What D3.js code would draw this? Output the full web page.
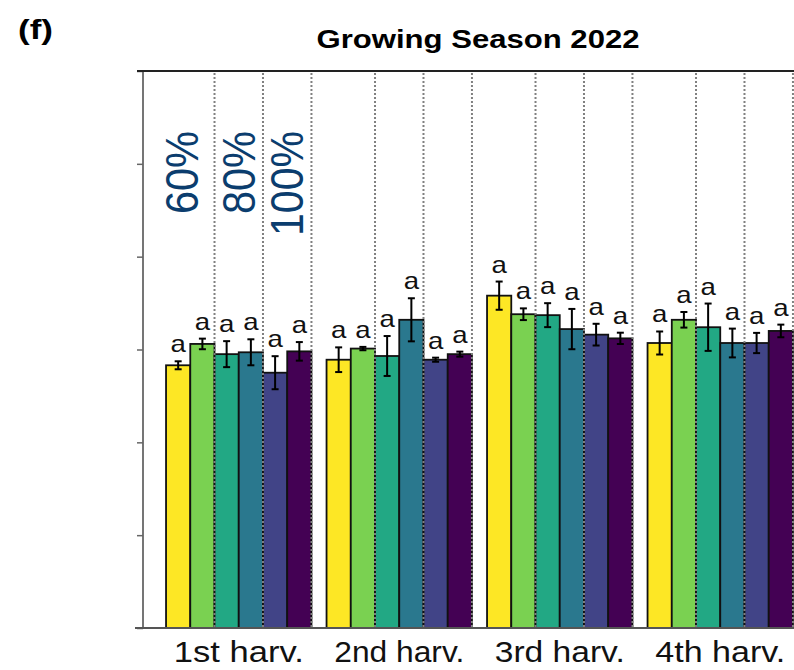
<!DOCTYPE html>
<html>
<head>
<meta charset="utf-8">
<script src="https://cdn.jsdelivr.net/npm/d3@7"></script>
<style>
  body { margin: 0; background: #fff; }
  svg { display: block; font-family: "Liberation Sans", Arial, sans-serif; }
</style>
</head>
<body>
<svg id="chart"></svg>
<script>
// harvests on x axis
const harvests = ["1st harv.", "2nd harv.", "3rd harv.", "4th harv."];
// six treatments per harvest (pairs by irrigation level)
const treatments = ["60% a", "60% b", "80% a", "80% b", "100% a", "100% b"];
const irrigation = ["60%", "80%", "100%"];
const colors = ["#fde725", "#7ad151", "#22a884", "#2a788e", "#414487", "#440154"];

// means per harvest (rows) and treatment (cols)
const means = [
  [2.83, 3.06, 2.95, 2.97, 2.75, 2.98],
  [2.89, 3.01, 2.93, 3.32, 2.89, 2.95],
  [3.58, 3.38, 3.37, 3.22, 3.16, 3.12],
  [3.07, 3.32, 3.24, 3.07, 3.07, 3.20]
];
// error bar half-widths
const errors = [
  [0.043, 0.057, 0.14, 0.14, 0.178, 0.10],
  [0.133, 0.018, 0.215, 0.232, 0.022, 0.027],
  [0.152, 0.063, 0.129, 0.217, 0.117, 0.061],
  [0.124, 0.084, 0.255, 0.155, 0.109, 0.068]
];
// significance letters
const letters = [
  ["a", "a", "a", "a", "a", "a"],
  ["a", "a", "a", "a", "a", "a"],
  ["a", "a", "a", "a", "a", "a"],
  ["a", "a", "a", "a", "a", "a"]
];
const yTicks = [0, 1, 2, 3, 4, 5, 6];

const width = 794, height = 670;
const marginTop = 71, marginBottom = 42, marginLeft = 143;

const svg = d3.select("#chart")
  .attr("width", width)
  .attr("height", height)
  .attr("viewBox", [0, 0, width, height]);

const x0 = d3.scaleBand(harvests, [158.5, 800.5]).paddingInner(0.094).paddingOuter(0.047);
const x1 = d3.scaleBand(d3.range(treatments.length), [0, x0.bandwidth()]);
const y = d3.scaleLinear([0, 6], [height - marginBottom, marginTop]);

const data = [];
harvests.forEach((h, gi) => treatments.forEach((t, ti) => data.push({
  h, ti, v: means[gi][ti], e: errors[gi][ti], l: letters[gi][ti]
})));

// panel label and title
svg.append("text")
  .attr("x", 18).attr("y", 39)
  .attr("font-size", 28).attr("font-weight", "bold")
  .attr("textLength", 35).attr("lengthAdjust", "spacingAndGlyphs")
  .text("(f)");

svg.append("text")
  .attr("x", 478).attr("y", 48)
  .attr("text-anchor", "middle")
  .attr("font-size", 25).attr("font-weight", "bold")
  .attr("textLength", 323).attr("lengthAdjust", "spacingAndGlyphs")
  .text("Growing Season 2022");

// bars
const bars = svg.append("g");
bars.selectAll("rect")
  .data(data)
  .join("rect")
    .attr("x", d => x0(d.h) + x1(d.ti))
    .attr("y", d => y(d.v))
    .attr("width", x1.bandwidth())
    .attr("height", d => y(0) - y(d.v))
    .attr("fill", d => colors[d.ti])
    .attr("stroke", "#111")
    .attr("stroke-width", 1.8);

// dotted separators after each pair of bars
const seps = [];
harvests.forEach(h => [2, 4, 6].forEach(k => seps.push(x0(h) + k * x1.step())));
svg.append("g")
  .selectAll("line")
  .data(seps)
  .join("line")
    .attr("x1", d => d).attr("x2", d => d)
    .attr("y1", y(6) + 2).attr("y2", y(0))
    .attr("stroke", "#808080")
    .attr("stroke-width", 2)
    .attr("stroke-dasharray", "2,2");

// error bars
const err = svg.append("g").attr("stroke", "#000").attr("stroke-width", 2);
data.forEach(d => {
  const cx = x0(d.h) + x1(d.ti) + x1.bandwidth() / 2;
  err.append("line").attr("x1", cx).attr("x2", cx).attr("y1", y(d.v - d.e)).attr("y2", y(d.v + d.e));
  err.append("line").attr("x1", cx - 3.5).attr("x2", cx + 3.5).attr("y1", y(d.v - d.e)).attr("y2", y(d.v - d.e));
  err.append("line").attr("x1", cx - 3.5).attr("x2", cx + 3.5).attr("y1", y(d.v + d.e)).attr("y2", y(d.v + d.e));
});

// letters
svg.append("g")
  .selectAll("text")
  .data(data)
  .join("text")
    .attr("transform", d => `translate(${x0(d.h) + x1(d.ti) + x1.bandwidth() / 2},${y(d.v + d.e) - 9}) scale(1.2,1)`)
    .attr("text-anchor", "middle")
    .attr("font-size", 23)
    .attr("fill", "#111")
    .text(d => d.l);

// irrigation labels over the first harvest
svg.append("g")
  .selectAll("text")
  .data(irrigation)
  .join("text")
    .attr("transform", (d, i) => {
      const cx = x0(harvests[0]) + x1(i * 2) + x1.step() - (i === 0 ? 8 : 0);
      return `translate(${cx + 16},131) scale(1.15,1) rotate(-90)`;
    })
    .attr("text-anchor", "end")
    .attr("font-size", 40)
    .attr("fill", "#0b3d6e")
    .attr("textLength", d => d.length === 4 ? 105 : 83)
    .attr("lengthAdjust", "spacingAndGlyphs")
    .text(d => d);

// y axis (labels cropped off in source)
svg.append("g")
  .attr("transform", `translate(${marginLeft},0)`)
  .call(d3.axisLeft(y).tickValues(yTicks).tickSize(6).tickFormat(""))
  .call(g => g.select(".domain").remove())
  .call(g => g.selectAll(".tick line").attr("stroke", "#666").attr("stroke-width", 1.5));
svg.append("line")
  .attr("x1", marginLeft).attr("x2", marginLeft)
  .attr("y1", y(6)).attr("y2", y(0))
  .attr("stroke", "#666").attr("stroke-width", 1.8);

// top frame line and bottom axis
svg.append("line")
  .attr("x1", marginLeft - 6).attr("x2", width)
  .attr("y1", y(6)).attr("y2", y(6))
  .attr("stroke", "#222").attr("stroke-width", 2);

svg.append("g")
  .attr("transform", `translate(0,${y(0)})`)
  .call(d3.axisBottom(x0).tickSize(0).tickPadding(0))
  .call(g => g.select(".domain").remove())
  .call(g => g.selectAll("text")
    .attr("y", 34)
    .attr("dy", "0")
    .attr("font-size", 30)
    .attr("font-family", "'Liberation Sans', Arial, sans-serif")
    .attr("fill", "#111")
    .attr("textLength", 130)
    .attr("lengthAdjust", "spacingAndGlyphs"));
svg.append("line")
  .attr("x1", marginLeft - 8).attr("x2", width)
  .attr("y1", y(0)).attr("y2", y(0))
  .attr("stroke", "#555").attr("stroke-width", 2);
</script>
</body>
</html>
